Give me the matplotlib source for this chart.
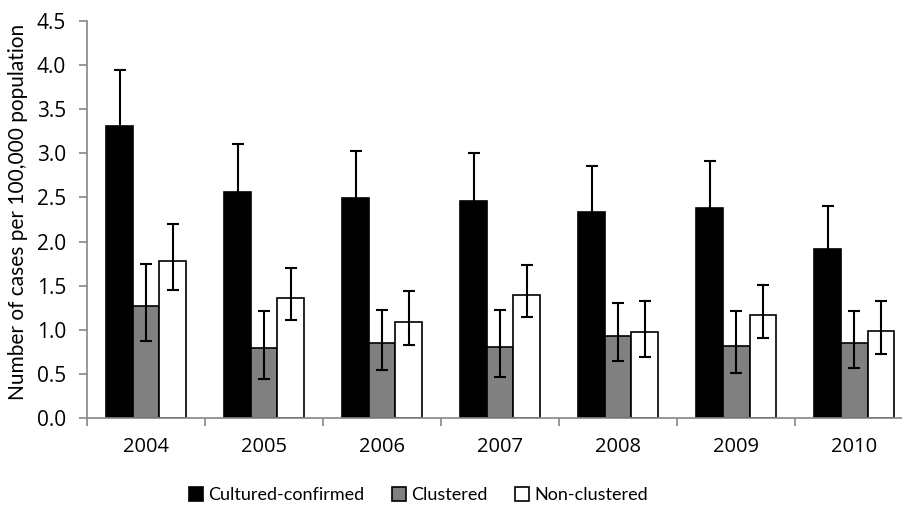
import matplotlib.pyplot as plt
import numpy as np

years = ['2004', '2005', '2006', '2007', '2008', '2009', '2010']

cultured = [3.31, 2.56, 2.49, 2.46, 2.34, 2.38, 1.92]
cultured_hi = [3.95, 3.11, 3.03, 3.00, 2.86, 2.91, 2.40]

clustered = [1.27, 0.79, 0.85, 0.80, 0.93, 0.82, 0.85]
clustered_hi = [1.75, 1.21, 1.23, 1.23, 1.30, 1.21, 1.21]
clustered_lo = [0.87, 0.44, 0.54, 0.46, 0.65, 0.51, 0.57]

nonclustered = [1.78, 1.36, 1.09, 1.40, 0.97, 1.17, 0.99]
nonclustered_hi = [2.20, 1.70, 1.44, 1.74, 1.33, 1.51, 1.33]
nonclustered_lo = [1.45, 1.11, 0.83, 1.15, 0.69, 0.91, 0.73]

plt.rcParams['font.family'] = ['Lato', 'DejaVu Sans']

fig = plt.figure(figsize=(9.02, 5.07), dpi=100)
ax = fig.add_axes([0.0965, 0.1755, 0.916, 0.783])

x = np.arange(len(years))
w = 0.225
axis_grey = '#868686'

def errs(vals, lo, hi):
    v = np.array(vals)
    return [v - np.array(lo), np.array(hi) - v]

c = np.array(cultured)
ch = np.array(cultured_hi)
ax.bar(x - w, cultured, w, color='black', edgecolor='black', linewidth=1.2,
       label='Cultured-confirmed', zorder=2)
ax.bar(x, clustered, w, color='#808080', edgecolor='black', linewidth=1.2,
       label='Clustered', zorder=2)
ax.bar(x + w, nonclustered, w, color='white', edgecolor='black', linewidth=1.2,
       label='Non-clustered', zorder=2)

ekw = dict(fmt='none', ecolor='black', elinewidth=1.5, capsize=4, capthick=1.5, zorder=3)
ax.errorbar(x - w, cultured, yerr=[ch - c, ch - c], **ekw)
ax.errorbar(x, clustered, yerr=errs(clustered, clustered_lo, clustered_hi), **ekw)
ax.errorbar(x + w, nonclustered, yerr=errs(nonclustered, nonclustered_lo, nonclustered_hi), **ekw)

ax.set_xlim(-0.5, 6.5)
ax.set_ylim(0, 4.5)
yt = np.arange(0, 4.51, 0.5)
ax.set_yticks(yt)
ax.set_yticklabels([f'{v:.1f}' for v in yt], family=['Open Sans'], fontsize=15)
ax.set_xticks(x)
ax.set_xticklabels(years, family=['Open Sans'], fontsize=14.5)
ax.set_xticks(np.arange(-0.5, 7, 1), minor=True)
ax.tick_params(axis='x', which='major', length=0, pad=14)
ax.tick_params(axis='x', which='minor', length=6, color=axis_grey, width=1.2)
ax.tick_params(axis='y', length=6, color=axis_grey, width=1.2, pad=9)

for s in ['top', 'right']:
    ax.spines[s].set_visible(False)
for s in ['left', 'bottom']:
    ax.spines[s].set_color(axis_grey)
    ax.spines[s].set_linewidth(1.2)

ax.set_ylabel('Number of cases per 100,000 population', fontsize=15)
ax.yaxis.set_label_coords(-0.0714, 0.518)

fig.legend(loc='center', bbox_to_anchor=(0.464, 0.024), ncol=3, frameon=False,
           fontsize=13, handlelength=0.8, handleheight=0.8, handletextpad=0.3,
           columnspacing=1.5)

fig.savefig('out.png', dpi=100)
